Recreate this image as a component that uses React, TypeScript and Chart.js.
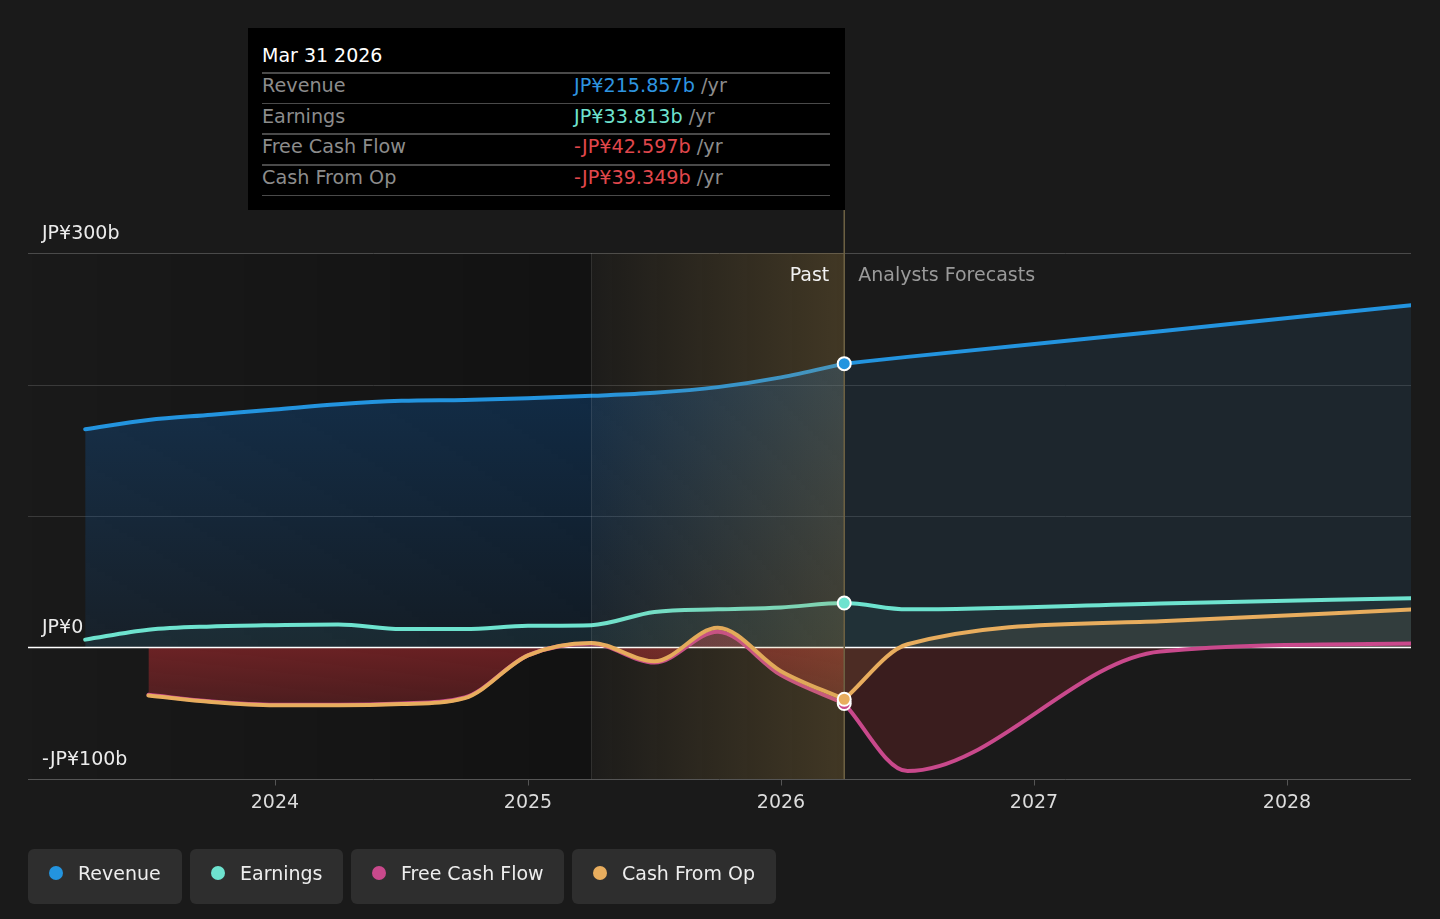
import React, { useEffect, useRef } from 'react';
import { Chart, registerables } from 'chart.js';

Chart.register(...registerables);

const FONT = '"DejaVu Sans", Verdana, sans-serif';

// ---- data (JP¥ billions, x = decimal year) ----
const pastPeriods = [2023.25, 2023.5, 2023.75, 2024.0, 2024.25, 2024.5, 2024.75, 2025.0, 2025.25, 2025.5, 2025.75, 2026.0, 2026.25];
const forecastPeriods = [2026.5, 2027.5, 2028.5];

const revenuePast = [166, 173, 177, 181, 185, 187.6, 188.3, 189.5, 191.4, 193.7, 198, 205.4, 215.857];
const revenueForecast = [221, 240.5, 260.5];

const earningsPast = [6, 13.5, 16, 17, 17.5, 14, 14, 16.5, 17, 27, 29, 30.5, 33.813];
const earningsForecast = [29, 33.5, 37.5];

const fcfPast = [null, -36, -41, -43.5, -43.5, -42.5, -38, -6, 3, -11.5, 12, -21, -42.597];
const fcfForecast = [-94, -3, 3];

const cfoPast = [null, -36.5, -41.5, -44, -44, -43, -38.5, -6, 3.5, -10.5, 15, -18, -39.349];
const cfoForecast = [2.5, 20, 29];

const yearTicks = [2024, 2025, 2026, 2027, 2028];
const yLabelValues = [300, 0, -100];
const yLabelTexts = ['JP¥300b', 'JP¥0', '-JP¥100b'];
const gridValues = [300, 200, 100];

const xMin = 2023.024;
const xMax = 2028.49;
const yMin = -100;
const yMax = 300;
const highlightStart = 2025.25;
const todayX = 2026.25;

const tooltipTitle = 'Mar 31 2026';
const tooltipRows = [
  { label: 'Revenue', value: 'JP¥215.857b', color: '#2e95e0' },
  { label: 'Earnings', value: 'JP¥33.813b', color: '#6fe3cf' },
  { label: 'Free Cash Flow', value: '-JP¥42.597b', color: '#e0474c' },
  { label: 'Cash From Op', value: '-JP¥39.349b', color: '#e0474c' },
];

const COLORS = {
  revenue: '#2394df',
  earnings: '#6ee3cf',
  fcf: '#c9498c',
  cfo: '#e8ad5e',
};

const legendItems = [
  { label: 'Revenue', color: COLORS.revenue, left: 28, width: 154 },
  { label: 'Earnings', color: COLORS.earnings, left: 190, width: 153 },
  { label: 'Free Cash Flow', color: COLORS.fcf, left: 351, width: 213 },
  { label: 'Cash From Op', color: COLORS.cfo, left: 572, width: 204 },
];

function pastSeries(past: (number | null)[]) {
  return pastPeriods.map((x, i) => ({ x, y: past[i] }));
}
function forecastSeries(past: (number | null)[], forecast: number[]) {
  const xs = [todayX, ...forecastPeriods];
  const ys = [past[past.length - 1], ...forecast];
  return xs.map((x, i) => ({ x, y: ys[i] }));
}
function fullSeries(past: (number | null)[], forecast: number[]) {
  const xs = [...pastPeriods, ...forecastPeriods];
  const ys = [...past, ...forecast];
  return xs.map((x, i) => ({ x, y: ys[i] }));
}

function vGrad(top: number, bottom: number, c1: string, c2: string) {
  return (c: any) => {
    const chart = c.chart;
    const y = chart.scales && chart.scales.y;
    if (!chart.chartArea || !y) return c1;
    const g = chart.ctx.createLinearGradient(0, y.getPixelForValue(top), 0, y.getPixelForValue(bottom));
    g.addColorStop(0, c1);
    g.addColorStop(1, c2);
    return g;
  };
}

const decorPlugin = {
  id: 'decor',
  beforeDraw(chart: any) {
    const { ctx, chartArea: a, scales } = chart;
    const y = scales.y;
    const x = scales.x;
    ctx.save();
    // past-area darkening
    const x0 = x.getPixelForValue(highlightStart);
    const dg = ctx.createLinearGradient(a.left, 0, x0, 0);
    dg.addColorStop(0, 'rgba(0,0,0,0)');
    dg.addColorStop(1, 'rgba(0,0,0,0.3)');
    ctx.fillStyle = dg;
    ctx.fillRect(a.left, a.top, x0 - a.left, a.bottom - a.top);

    ctx.lineWidth = 1;
    gridValues.forEach((v) => {
      const py = Math.round(y.getPixelForValue(v)) + 0.5;
      ctx.strokeStyle = v === 300 ? '#4a4a4a' : '#3a3a3a';
      ctx.beginPath();
      ctx.moveTo(a.left, py);
      ctx.lineTo(a.right, py);
      ctx.stroke();
    });
    const by = Math.round(y.getPixelForValue(yMin)) + 0.5;
    ctx.strokeStyle = '#555';
    ctx.beginPath();
    ctx.moveTo(a.left, by);
    ctx.lineTo(a.right, by);
    ctx.stroke();
    yearTicks.forEach((t) => {
      const px = Math.round(x.getPixelForValue(t)) + 0.5;
      ctx.beginPath();
      ctx.moveTo(px, by);
      ctx.lineTo(px, by + 6);
      ctx.stroke();
    });
    ctx.restore();
  },
  beforeDatasetsDraw(chart: any) {
    const { ctx, chartArea: a, scales } = chart;
    const py = scales.y.getPixelForValue(0);
    ctx.save();
    ctx.strokeStyle = '#ffffff';
    ctx.lineWidth = 1.5;
    ctx.beginPath();
    ctx.moveTo(a.left, py);
    ctx.lineTo(a.right, py);
    ctx.stroke();
    ctx.restore();
  },
  afterDatasetsDraw(chart: any) {
    const { ctx, chartArea: a, scales } = chart;
    const x = scales.x;
    const x0 = x.getPixelForValue(highlightStart);
    const x1 = x.getPixelForValue(todayX);
    ctx.save();
    const g = ctx.createLinearGradient(x0, 0, x1, 0);
    g.addColorStop(0, 'rgba(190,150,70,0.02)');
    g.addColorStop(1, 'rgba(190,150,70,0.24)');
    ctx.fillStyle = g;
    ctx.fillRect(x0, a.top, x1 - x0, a.bottom - a.top);
    ctx.strokeStyle = 'rgba(255,255,255,0.1)';
    ctx.lineWidth = 1;
    ctx.beginPath();
    ctx.moveTo(Math.round(x0) + 0.5, a.top);
    ctx.lineTo(Math.round(x0) + 0.5, a.bottom);
    ctx.stroke();
    ctx.strokeStyle = '#6e6244';
    ctx.lineWidth = 1.5;
    ctx.beginPath();
    ctx.moveTo(x1, 210);
    ctx.lineTo(x1, a.bottom);
    ctx.stroke();

    // markers at the last reported point (FCF, CFO, Earnings, Revenue)
    const markerSets = ['fcfPast', 'cfoPast', 'earnings', 'revenuePast'];
    markerSets.forEach((id) => {
      const di = chart.data.datasets.findIndex((d: any) => d.id === id);
      if (di < 0) return;
      const meta = chart.getDatasetMeta(di);
      const ds = chart.data.datasets[di];
      const idx = ds.data.findIndex((p: any) => p.x === todayX);
      const el = meta.data[idx];
      if (!el) return;
      ctx.beginPath();
      ctx.arc(el.x, el.y, 6.5, 0, Math.PI * 2);
      ctx.fillStyle = ds.borderColor;
      ctx.fill();
      ctx.lineWidth = 2;
      ctx.strokeStyle = '#ffffff';
      ctx.stroke();
    });
    ctx.restore();
  },
  afterDraw(chart: any) {
    const { ctx, chartArea: a, scales } = chart;
    const x = scales.x;
    const y = scales.y;
    ctx.save();
    ctx.font = `19px ${FONT}`;
    ctx.textBaseline = 'middle';
    ctx.fillStyle = '#ececec';
    ctx.textAlign = 'left';
    yLabelValues.forEach((v, i) => {
      ctx.fillText(yLabelTexts[i], a.left + 14, y.getPixelForValue(v) - 19);
    });
    ctx.textAlign = 'center';
    ctx.fillStyle = '#dcdcdc';
    yearTicks.forEach((t) => {
      ctx.fillText(String(t), x.getPixelForValue(t), a.bottom + 24);
    });
    const tx = x.getPixelForValue(todayX);
    const ly = y.getPixelForValue(yMax) + 23;
    ctx.textAlign = 'right';
    ctx.fillStyle = '#f2f2f2';
    ctx.fillText('Past', tx - 15, ly);
    ctx.textAlign = 'left';
    ctx.fillStyle = '#9a9a9a';
    ctx.fillText('Analysts Forecasts', tx + 14, ly);
    ctx.restore();
  },
};

export default function App() {
  const canvasRef = useRef<HTMLCanvasElement | null>(null);

  useEffect(() => {
    if (!canvasRef.current) return;
    Chart.defaults.font.family = FONT;
    const lineBase = { borderWidth: 4, fill: 'origin' as const };
    const chart = new Chart(canvasRef.current, {
      type: 'line',
      data: {
        datasets: [
          {
            ...lineBase,
            id: 'revenuePast',
            label: 'Revenue',
            data: pastSeries(revenuePast),
            borderColor: COLORS.revenue,
            backgroundColor: vGrad(220, 0, 'rgba(15,100,185,0.33)', 'rgba(15,100,185,0.1)'),
          } as any,
          {
            ...lineBase,
            id: 'revenueForecast',
            label: 'Revenue forecast',
            data: forecastSeries(revenuePast, revenueForecast),
            borderColor: COLORS.revenue,
            backgroundColor: 'rgba(50,110,160,0.14)',
          } as any,
          {
            ...lineBase,
            id: 'earnings',
            label: 'Earnings',
            data: fullSeries(earningsPast, earningsForecast),
            borderColor: COLORS.earnings,
            backgroundColor: 'rgba(110,227,207,0.07)',
          } as any,
          {
            ...lineBase,
            id: 'cfoPast',
            label: 'Cash From Op',
            data: pastSeries(cfoPast),
            borderColor: COLORS.cfo,
            fill: false,
            backgroundColor: 'rgba(0,0,0,0)',
          } as any,
          {
            ...lineBase,
            id: 'cfoForecast',
            label: 'Cash From Op forecast',
            data: forecastSeries(cfoPast, cfoForecast),
            borderColor: COLORS.cfo,
            backgroundColor: 'rgba(232,173,94,0.1)',
          } as any,
          {
            ...lineBase,
            id: 'fcfPast',
            label: 'Free Cash Flow',
            data: pastSeries(fcfPast),
            borderColor: COLORS.fcf,
            backgroundColor: vGrad(0, -45, 'rgba(190,45,50,0.5)', 'rgba(190,45,50,0.32)'),
          } as any,
          {
            ...lineBase,
            id: 'fcfForecast',
            label: 'Free Cash Flow forecast',
            data: forecastSeries(fcfPast, fcfForecast),
            borderColor: COLORS.fcf,
            backgroundColor: 'rgba(190,45,50,0.2)',
          } as any,
        ],
      },
      options: {
        animation: false,
        responsive: false,
        events: [],
        layout: { padding: { left: 28, right: 29, top: 253, bottom: 140 } },
        elements: {
          point: { radius: 0, hoverRadius: 0 },
          line: { cubicInterpolationMode: 'monotone', borderCapStyle: 'round', borderJoinStyle: 'round' },
        },
        scales: {
          x: { type: 'linear', min: xMin, max: xMax, display: false },
          y: { type: 'linear', min: yMin, max: yMax, display: false },
        },
        plugins: {
          legend: { display: false },
          tooltip: { enabled: false },
          filler: { drawTime: 'beforeDatasetsDraw' },
        } as any,
      },
      plugins: [decorPlugin as any],
    });
    return () => chart.destroy();
  }, []);

  const rowH = 30.7;
  return (
    <div
      style={{
        position: 'fixed',
        left: 0,
        top: 0,
        width: 1440,
        height: 919,
        background: '#1a1a1a',
        fontFamily: FONT,
        overflow: 'hidden',
      }}
    >
      <canvas ref={canvasRef} width={1440} height={919} style={{ position: 'absolute', left: 0, top: 0, width: 1440, height: 919 }} />

      {/* tooltip box */}
      <div style={{ position: 'absolute', left: 248, top: 28, width: 597, height: 182, background: '#000' }}>
        <div style={{ position: 'absolute', left: 14, top: 15, fontSize: 19, lineHeight: '24px', color: '#fff' }}>{tooltipTitle}</div>
        {tooltipRows.map((r, i) => (
          <React.Fragment key={r.label}>
            <div style={{ position: 'absolute', left: 14, width: 568, top: 44 + i * rowH, height: 1.5, background: '#4a4a4a' }} />
            <div style={{ position: 'absolute', left: 14, top: 43 + i * rowH, height: 30, lineHeight: '30px', fontSize: 19.2, color: '#8c8c8c', whiteSpace: 'nowrap' }}>{r.label}</div>
            <div style={{ position: 'absolute', left: 326, top: 43 + i * rowH, height: 30, lineHeight: '30px', fontSize: 19.2, whiteSpace: 'nowrap' }}>
              <span style={{ color: r.color }}>{r.value}</span>
              <span style={{ color: '#8c8c8c' }}> /yr</span>
            </div>
          </React.Fragment>
        ))}
        <div style={{ position: 'absolute', left: 14, width: 568, top: 44 + 4 * rowH, height: 1.5, background: '#4a4a4a' }} />
      </div>

      {/* legend */}
      {legendItems.map((l) => (
        <div
          key={l.label}
          style={{
            position: 'absolute',
            left: l.left,
            top: 849,
            width: l.width,
            height: 55,
            background: '#2e2e2e',
            borderRadius: 6,
          }}
        >
          <div style={{ position: 'absolute', left: 21, top: 17, width: 14, height: 14, borderRadius: 7, background: l.color }} />
          <div style={{ position: 'absolute', left: 50, top: -3, height: 55, lineHeight: '55px', fontSize: 19, color: '#eeeeee', whiteSpace: 'nowrap' }}>{l.label}</div>
        </div>
      ))}
    </div>
  );
}
